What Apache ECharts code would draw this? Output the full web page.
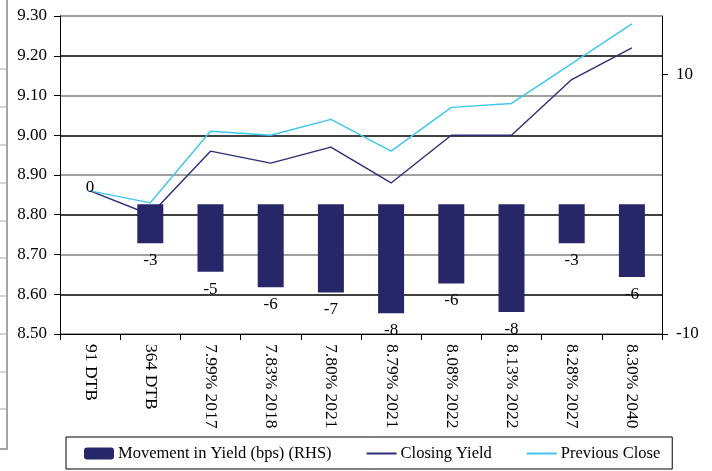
<!DOCTYPE html>
<html>
<head>
<meta charset="utf-8">
<script src="https://cdn.jsdelivr.net/npm/echarts@6/dist/echarts.min.js"></script>
<style>
  html, body { margin: 0; padding: 0; background: #fff; }
  #main { width: 712px; height: 471px; }
</style>
</head>
<body>
<div id="main"></div>
<script type="text/javascript">

    var categories = ['91 DTB', '364 DTB', '7.99% 2017', '7.83% 2018', '7.80% 2021',
        '8.79% 2021', '8.08% 2022', '8.13% 2022', '8.28% 2027', '8.30% 2040'];
    // bps, right hand scale
    var movement = [0, -3.0, -5.2, -6.4, -6.8, -8.4, -6.1, -8.3, -3.0, -5.6];
    var closingYield = [8.86, 8.80, 8.96, 8.93, 8.97, 8.88, 9.00, 9.00, 9.14, 9.22];
    var previousClose = [8.86, 8.83, 9.01, 9.00, 9.04, 8.96, 9.07, 9.08, 9.18, 9.28];
    var rightTicks = [-10, 10];

    var serif = 'Liberation Serif';
    var ec = echarts.init(document.getElementById('main'));

    // zero bar gets its label above the baseline
    var barData = movement.map(function (v) {
        if (v === 0) {
            return { value: v, label: { position: 'top', distance: 8 } };
        }
        return v;
    });

    // frame edge of a neighbouring picture on the left
    var frame = [{
        type: 'polyline',
        silent: true,
        shape: { points: [[7, 0], [7, 449], [0, 449]] },
        style: { stroke: '#888', lineWidth: 1.5, fill: null }
    }];
    [69, 107, 145, 183, 221, 258, 296, 334, 372, 409].forEach(function (y) {
        frame.push({
            type: 'line', silent: true,
            shape: { x1: 0, y1: y, x2: 7, y2: y },
            style: { stroke: '#aaa', lineWidth: 1 }
        });
    });

    var option = {
        animation: false,
        grid: { left: 60, right: 50, top: 16, bottom: 137 },
        legend: {
            left: 66,
            top: 437,
            data: [
                { name: 'Movement in Yield (bps) (RHS)' },
                { name: 'Closing Yield', itemStyle: { opacity: 0 } },
                { name: 'Previous Close', itemStyle: { opacity: 0 } }
            ],
            borderColor: '#000',
            borderWidth: 1,
            padding: [8, 12, 7, 18],
            itemGap: 34,
            itemWidth: 30,
            itemHeight: 12,
            textStyle: { fontFamily: serif, fontSize: 16.5, color: '#000', padding: [0, 0, 0, -1] }
        },
        xAxis: {
            type: 'category',
            data: categories,
            axisLine: { onZero: false, lineStyle: { color: '#000', width: 1 } },
            axisTick: { show: true, alignWithLabel: false, length: 6, lineStyle: { color: '#000' } },
            axisLabel: {
                rotate: -90, interval: 0, margin: 10,
                fontFamily: serif, fontSize: 17.5, color: '#000'
            }
        },
        yAxis: [{
            type: 'value',
            min: 8.5, max: 9.3, interval: 0.1,
            axisLine: { show: true, lineStyle: { color: '#000' } },
            axisTick: { show: true, length: 6, lineStyle: { color: '#000' } },
            axisLabel: {
                margin: 13, fontFamily: serif, fontSize: 17, color: '#000',
                formatter: function (v) { return v.toFixed(2); }
            },
            splitLine: { show: true, lineStyle: { color: ['#808080', '#000'], width: 1.5 } }
        }, {
            type: 'value',
            position: 'right',
            min: -10, max: 14.5, interval: 20,
            axisLine: { show: true, lineStyle: { color: '#000' } },
            axisTick: { show: true, inside: false, length: 6, customValues: rightTicks, lineStyle: { color: '#000' } },
            axisLabel: {
                margin: 14, fontFamily: serif, fontSize: 17, color: '#000',
                customValues: rightTicks
            },
            splitLine: { show: false }
        }],
        series: [{
            name: 'Movement in Yield (bps) (RHS)',
            type: 'bar',
            yAxisIndex: 1,
            data: barData,
            barWidth: 26,
            z: 3,
            itemStyle: { color: '#262669' },
            label: {
                show: true,
                position: 'bottom',
                distance: 9,
                fontFamily: serif, fontSize: 17, color: '#000',
                formatter: function (p) { return String(Math.round(p.value)); }
            }
        }, {
            name: 'Closing Yield',
            type: 'line',
            yAxisIndex: 0,
            data: closingYield,
            symbol: 'none',
            z: 2,
            lineStyle: { color: '#2d2d78', width: 1.4 },
            itemStyle: { color: '#2d2d78' }
        }, {
            name: 'Previous Close',
            type: 'line',
            yAxisIndex: 0,
            data: previousClose,
            symbol: 'none',
            z: 2,
            lineStyle: { color: '#3cc6f0', width: 1.4 },
            itemStyle: { color: '#3cc6f0' }
        }],
        graphic: frame
    };

    ec.setOption(option);
</script>
</body>
</html>
